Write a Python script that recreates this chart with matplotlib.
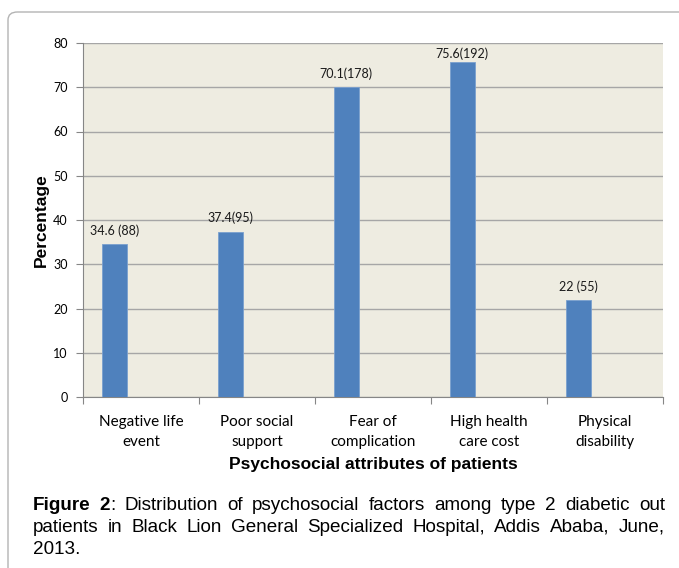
import matplotlib
matplotlib.use('Agg')
import matplotlib.pyplot as plt
from matplotlib.patches import FancyBboxPatch

# chart values
categories = ['Negative life\nevent', 'Poor social\nsupport', 'Fear of\ncomplication',
              'High health\ncare cost', 'Physical\ndisability']
percent = [34.6, 37.4, 70.1, 75.6, 22]
bar_labels = ['34.6 (88)', '37.4(95)', '70.1(178)', '75.6(192)', '22 (55)']
y_ticks = [0, 10, 20, 30, 40, 50, 60, 70, 80]

caption_lines = [
    [[('Figure', 'bold')], [('2', 'bold'), (':', 'normal')], 'Distribution', 'of', 'psychosocial',
     'factors', 'among', 'type', '2', 'diabetic', 'out'],
    ['patients', 'in', 'Black', 'Lion', 'General', 'Specialized', 'Hospital,', 'Addis',
     'Ababa,', 'June,'],
    ['2013.'],
]

W, H = 679, 568
fig = plt.figure(figsize=(W / 100, H / 100), dpi=100)

# rounded frame, only its top and left edges fall inside the picture
frame = FancyBboxPatch((8 / W, -1), 2, 2 - 12 / H, boxstyle='round,pad=0,rounding_size=0.014',
                       transform=fig.transFigure, facecolor='white', edgecolor='#b4b4b4',
                       linewidth=1.0, zorder=-10)
fig.patches.append(frame)

ax = fig.add_axes([83 / W, 1 - 397 / H, (663 - 83) / W, (397 - 43) / H])
ax.set_facecolor('#eeece1')

x = list(range(len(categories)))
bx = [i - 0.23 for i in x]
bars = ax.bar(bx, percent, width=0.22, color='#4f81bd', edgecolor='#7aa0cf',
              linewidth=0.6, zorder=3)
for b, lab in zip(bars, bar_labels):
    ax.text(b.get_x() + b.get_width() / 2, min(b.get_height() + 1.6, 76.2), lab,
            ha='center', va='bottom', fontsize=9, family='Lato', color='#1a1a1a')

ax.set_xlim(-0.5, len(categories) - 0.5)
ax.set_ylim(0, 80)
ax.set_yticks(y_ticks)
ax.set_yticklabels([str(t) for t in y_ticks], fontsize=9, family='Lato')
ax.yaxis.grid(True, color='#a6a6a6', linewidth=1.0, zorder=0)
ax.set_axisbelow(True)

ax.set_xticks([i + 0.5 for i in range(-1, len(categories))])
ax.set_xticklabels([])
ax.set_xticks(x, minor=True)
ax.set_xticklabels(categories, minor=True, fontsize=11, family='Lato', linespacing=1.55)
ax.tick_params(axis='x', which='minor', length=0, pad=13)
ax.tick_params(axis='x', which='major', length=5, color='#868686')
ax.tick_params(axis='y', length=5, color='#868686', pad=6)

for s in ['top', 'right']:
    ax.spines[s].set_visible(False)
for s in ['left', 'bottom']:
    ax.spines[s].set_color('#868686')

ax.set_ylabel('Percentage', fontsize=12.5, fontweight='bold', family='Liberation Sans', labelpad=3)
ax.set_xlabel('Psychosocial attributes of patients', fontsize=12.5, fontweight='bold',
              family='Liberation Sans', labelpad=6)

# justified caption
renderer = fig.canvas.get_renderer()
left_px, right_px = 33, 665
baselines = [510, 532, 554]
cap_size = 13.6


def word_parts(w):
    if isinstance(w, str):
        return [(w, 'normal')]
    return w


for li, (words, base) in enumerate(zip(caption_lines, baselines)):
    items = []
    total = 0
    for w in words:
        parts = []
        width = 0
        for txt, wt in word_parts(w):
            t = fig.text(0, 0, txt, fontsize=cap_size, fontweight=wt, family='Liberation Sans')
            bb = t.get_window_extent(renderer)
            parts.append((t, width))
            width += bb.width
        items.append((parts, width))
        total += width
    last = li == len(caption_lines) - 1
    if last or len(items) < 2:
        gap = 4.0
    else:
        gap = (right_px - left_px - total) / (len(items) - 1)
    xpos = left_px
    for parts, width in items:
        for t, off in parts:
            t.set_position(((xpos + off) / W, 1 - base / H))
            t.set_va('baseline')
        xpos += width + gap

fig.savefig('out.png', dpi=100)
